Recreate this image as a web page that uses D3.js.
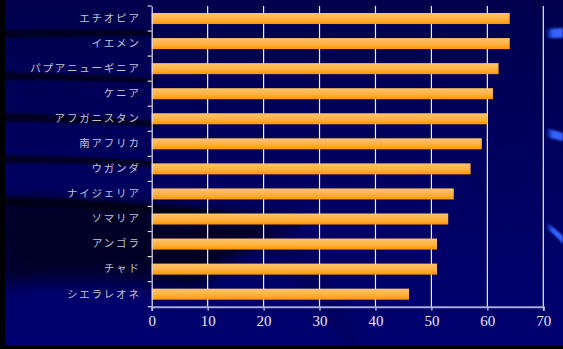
<!DOCTYPE html>
<html>
<head>
<meta charset="utf-8">
<script src="https://cdn.jsdelivr.net/npm/d3@7"></script>
<style>
  html, body { margin: 0; padding: 0; background: #000; }
  svg { display: block; }
</style>
</head>
<body>
<svg id="chart" width="563" height="349"></svg>
<script>
// Countries, top to bottom, and their values
const countries = ["エチオピア", "イエメン", "パプアニューギニア", "ケニア", "アフガニスタン", "南アフリカ",
                   "ウガンダ", "ナイジェリア", "ソマリア", "アンゴラ", "チャド", "シエラレオネ"];
const values = [64, 64, 62, 61, 60, 59, 57, 54, 53, 51, 51, 46];
const xTicks = [0, 10, 20, 30, 40, 50, 60, 70];

const W = 563, H = 349;
const svg = d3.select("#chart");
const defs = svg.append("defs");

// ---- backdrop ----
const bg = defs.append("linearGradient").attr("id", "bg").attr("x1", 0).attr("y1", 0).attr("x2", 0).attr("y2", 1);
bg.append("stop").attr("offset", 0).attr("stop-color", "#00004e");
bg.append("stop").attr("offset", 1).attr("stop-color", "#000070");

const barGrad = defs.append("linearGradient").attr("id", "bar").attr("x1", 0).attr("y1", 0).attr("x2", 0).attr("y2", 1);
barGrad.append("stop").attr("offset", 0).attr("stop-color", "#ffc46e");
barGrad.append("stop").attr("offset", 0.55).attr("stop-color", "#ffb040");
barGrad.append("stop").attr("offset", 1).attr("stop-color", "#ff9800");

const shade = defs.append("filter").attr("id", "soft").attr("x", "-20%").attr("y", "-20%").attr("width", "140%").attr("height", "140%");
shade.append("feGaussianBlur").attr("stdDeviation", 1.2);
const wide = defs.append("filter").attr("id", "wide").attr("x", "-30%").attr("y", "-30%").attr("width", "160%").attr("height", "160%");
wide.append("feGaussianBlur").attr("stdDeviation", 8);

const glow = defs.append("linearGradient").attr("id", "glow").attr("x1", 0).attr("y1", 0).attr("x2", 1).attr("y2", 0);
glow.append("stop").attr("offset", 0).attr("stop-color", "#1030a0").attr("stop-opacity", 0.2);
glow.append("stop").attr("offset", 0.35).attr("stop-color", "#3060ff");
glow.append("stop").attr("offset", 1).attr("stop-color", "#3a66ff");

svg.append("rect").attr("width", W).attr("height", H).attr("fill", "#000");
svg.append("rect").attr("x", 5).attr("y", 0).attr("width", W - 5).attr("height", 345).attr("fill", "url(#bg)");

const deco = svg.append("g").attr("clip-path", "url(#frame)");
defs.append("clipPath").attr("id", "frame").append("rect").attr("x", 5).attr("y", 0).attr("width", W - 5).attr("height", 345);

// dark sweeping bands on the left
const bands = [
  "M0,30 C60,29 120,29 156,30 L156,36 C120,36 60,37 0,38 Z",
  "M0,72 C60,74 120,76 156,78 L156,83 C120,82 60,80 0,80 Z",
  "M0,113 C60,114 120,118 156,121 L156,127 C120,124 60,122 0,122 Z",
  "M0,155 C60,156 120,158 156,161 L156,167 C120,165 60,163 0,163 Z"
];
deco.selectAll("path.band").data(bands).join("path")
  .attr("d", d => d).attr("fill", "#000018").attr("opacity", 0.8).attr("filter", "url(#soft)");

// large shadowed sweep at the lower left
deco.append("path")
  .attr("d", "M0,198 C90,200 190,206 300,222 C260,240 220,260 200,290 C140,280 60,275 0,285 Z")
  .attr("fill", "#000010").attr("opacity", 0.7).attr("filter", "url(#wide)");
deco.append("path")
  .attr("d", "M0,197 C90,199 190,206 300,222 L300,228 C190,214 90,207 0,206 Z")
  .attr("fill", "#000008").attr("opacity", 0.75).attr("filter", "url(#soft)");
deco.append("path")
  .attr("d", "M260,240 C300,270 330,305 350,349 L362,349 C342,305 312,268 272,236 Z")
  .attr("fill", "#000030").attr("opacity", 0.45).attr("filter", "url(#wide)");

// blue highlights on the right edge
deco.append("path").attr("d", "M546,29 L563,28 L563,38 L546,38 Z").attr("fill", "url(#glow)").attr("filter", "url(#soft)");
deco.append("path").attr("d", "M546,128 L563,133 L563,141 L546,137 Z").attr("fill", "url(#glow)").attr("filter", "url(#soft)");
deco.append("path").attr("d", "M546,222 C552,226 558,231 563,236 L563,244 C558,238 552,232 546,229 Z").attr("fill", "url(#glow)").attr("filter", "url(#soft)");

// ---- scales ----
const x = d3.scaleLinear().domain([0, 70]).range([151.7, 543.3]);
const y = d3.scaleBand().domain(countries).range([6, 306.7]).paddingInner(0.56).paddingOuter(0.28);

// vertical grid lines
svg.append("g").selectAll("line").data(xTicks.filter(t => t > 0)).join("line")
  .attr("x1", d => x(d)).attr("x2", d => x(d))
  .attr("y1", 6).attr("y2", 306.7)
  .attr("stroke", "#f0f0ff").attr("stroke-width", 1.2);

// bars
svg.append("g").selectAll("rect").data(countries).join("rect")
  .attr("x", x(0))
  .attr("y", d => y(d))
  .attr("width", (d, i) => x(values[i]) - x(0))
  .attr("height", y.bandwidth())
  .attr("fill", "url(#bar)");

// left axis: labels centered on bars, ticks at band boundaries
const yAxis = svg.append("g").attr("transform", `translate(${x(0)},0)`)
  .call(d3.axisLeft(y).tickSize(0).tickPadding(11));
yAxis.select(".domain").attr("stroke", "#e0e0f0").attr("stroke-width", 1.2);
yAxis.selectAll("text")
  .attr("fill", "#c4c4d4")
  .style("font-family", "'Noto Sans CJK JP', sans-serif")
  .style("font-size", "10.5px")
  .style("letter-spacing", "1.8px");

const step = y.step();
const y0 = y.range()[0];
svg.append("g").selectAll("line").data(d3.range(countries.length + 1)).join("line")
  .attr("x1", x(0) - 4).attr("x2", x(0))
  .attr("y1", i => y0 + i * step).attr("y2", i => y0 + i * step)
  .attr("stroke", "#e0e0f0").attr("stroke-width", 1.2);

// bottom axis
const xAxis = svg.append("g").attr("transform", "translate(0,306.7)")
  .call(d3.axisBottom(x).tickValues(xTicks).tickSize(4).tickPadding(5));
xAxis.select(".domain").attr("stroke", "#a8a8d8").attr("stroke-width", 2);
xAxis.selectAll(".tick line").attr("stroke", "#c8c8e8").attr("stroke-width", 1.2);
xAxis.selectAll("text")
  .attr("fill", "#e8e8f8")
  .attr("font-family", "'Liberation Serif', serif")
  .attr("font-size", 15);
</script>
</body>
</html>
